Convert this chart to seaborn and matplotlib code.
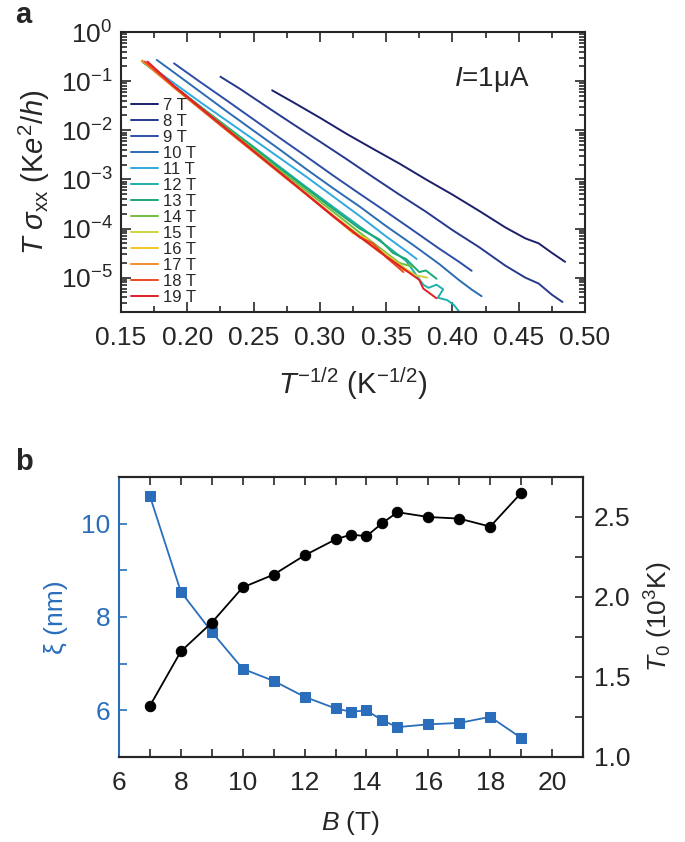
import matplotlib
matplotlib.use("Agg")
import matplotlib.pyplot as plt
from matplotlib.ticker import LogLocator, MultipleLocator, NullFormatter, FormatStrFormatter
import pandas as pd
import seaborn as sns

# ---- panel a: T*sigma_xx vs T^-1/2, one trace per field ----
fields = ["7 T", "8 T", "9 T", "10 T", "11 T", "12 T", "13 T",
          "14 T", "15 T", "16 T", "17 T", "18 T", "19 T"]
colors = ["#1c1f6b", "#27398c", "#2d4ea6", "#2b6cb3", "#30a9e0", "#1eb0ac", "#1ba873",
          "#72be3c", "#cdd53b", "#f3c61f", "#f28c2a", "#ea4a2a", "#e01f27"]

x_7 = [0.264, 0.280, 0.300, 0.320, 0.340, 0.360, 0.380, 0.400, 0.420, 0.440, 0.455, 0.465, 0.475, 0.485]
y_7 = [6.5e-2, 3.7e-2, 1.8e-2, 8.5e-3, 4.2e-3, 2.1e-3, 1.0e-3, 4.9e-4, 2.3e-4, 1.05e-4, 6.3e-5, 5.0e-5, 3.2e-5, 2.1e-5]
x_8 = [0.225, 0.240, 0.260, 0.280, 0.300, 0.320, 0.340, 0.360, 0.380, 0.400, 0.420, 0.440, 0.455, 0.465, 0.475, 0.483]
y_8 = [1.23e-1, 6.9e-2, 3.0e-2, 1.32e-2, 5.9e-3, 2.6e-3, 1.12e-3, 4.9e-4, 2.2e-4, 9.3e-5, 4.2e-5, 1.75e-5, 1.0e-5, 7.6e-6, 4.5e-6, 3.2e-6]
x_9 = [0.190, 0.210, 0.230, 0.250, 0.270, 0.290, 0.310, 0.330, 0.350, 0.370, 0.390, 0.405, 0.4145]
y_9 = [2.3e-1, 9.5e-2, 4.0e-2, 1.66e-2, 6.9e-3, 2.9e-3, 1.2e-3, 5.1e-4, 2.2e-4, 9.3e-5, 3.9e-5, 2.1e-5, 1.38e-5]
x_10 = [0.177, 0.190, 0.210, 0.230, 0.250, 0.270, 0.290, 0.310, 0.330, 0.350, 0.370, 0.390, 0.405, 0.415, 0.422]
y_10 = [2.7e-1, 1.5e-1, 6.0e-2, 2.4e-2, 9.8e-3, 4.0e-3, 1.6e-3, 6.6e-4, 2.8e-4, 1.12e-4, 4.7e-5, 1.9e-5, 8.9e-6, 5.6e-6, 4.2e-6]
x_11 = [0.170, 0.190, 0.210, 0.230, 0.250, 0.270, 0.290, 0.310, 0.330, 0.350, 0.365, 0.373]
y_11 = [2.2e-1, 9.1e-2, 3.7e-2, 1.55e-2, 6.5e-3, 2.7e-3, 1.12e-3, 4.5e-4, 1.8e-4, 6.9e-5, 3.5e-5, 2.4e-5]
x_12 = [0.167, 0.190, 0.210, 0.230, 0.250, 0.270, 0.290, 0.310, 0.330, 0.350, 0.365, 0.378,
        0.382, 0.388, 0.393, 0.389, 0.396, 0.401, 0.406]
y_12 = [2.4e-1, 7.9e-2, 3.0e-2, 1.17e-2, 4.6e-3, 1.78e-3, 6.9e-4, 2.75e-4, 1.1e-4, 4.5e-5, 2.2e-5, 7.2e-6,
        6.2e-6, 7.2e-6, 5.8e-6, 3.9e-6, 3.5e-6, 2.8e-6, 1.9e-6]
x_13 = [0.166, 0.190, 0.210, 0.230, 0.250, 0.270, 0.290, 0.310, 0.330, 0.345, 0.355, 0.365, 0.375, 0.380, 0.388]
y_13 = [2.5e-1, 7.9e-2, 3.0e-2, 1.15e-2, 4.4e-3, 1.66e-3, 6.5e-4, 2.5e-4, 1.0e-4, 6.0e-5, 3.2e-5, 2.4e-5, 1.3e-5, 1.4e-5, 9.5e-6]
x_14 = [0.166, 0.190, 0.210, 0.230, 0.250, 0.270, 0.290, 0.310, 0.330, 0.350, 0.360, 0.370]
y_14 = [2.6e-1, 7.9e-2, 2.95e-2, 1.1e-2, 4.1e-3, 1.5e-3, 5.8e-4, 2.2e-4, 8.3e-5, 3.2e-5, 2.0e-5, 1.66e-5]
x_15 = [0.166, 0.190, 0.210, 0.230, 0.250, 0.270, 0.290, 0.310, 0.330, 0.350, 0.365, 0.372, 0.381]
y_15 = [2.6e-1, 7.6e-2, 2.8e-2, 1.02e-2, 3.8e-3, 1.38e-3, 5.1e-4, 1.86e-4, 7.2e-5, 3.0e-5, 1.5e-5, 1.12e-5, 1.0e-5]
x_16 = [0.166, 0.190, 0.210, 0.230, 0.250, 0.270, 0.290, 0.310, 0.325, 0.335, 0.350, 0.362, 0.370]
y_16 = [2.6e-1, 7.4e-2, 2.7e-2, 9.9e-3, 3.7e-3, 1.35e-3, 5.0e-4, 1.8e-4, 8.0e-5, 6.3e-5, 2.7e-5, 1.5e-5, 1.2e-5]
x_17 = [0.166, 0.190, 0.210, 0.230, 0.250, 0.270, 0.290, 0.310, 0.330, 0.345, 0.355, 0.365]
y_17 = [2.6e-1, 7.4e-2, 2.7e-2, 9.8e-3, 3.6e-3, 1.32e-3, 4.9e-4, 1.8e-4, 6.8e-5, 3.3e-5, 2.2e-5, 1.4e-5]
x_18 = [0.168, 0.190, 0.210, 0.230, 0.250, 0.270, 0.290, 0.310, 0.330, 0.340, 0.350, 0.357, 0.363]
y_18 = [2.5e-1, 7.6e-2, 2.75e-2, 1.0e-2, 3.7e-3, 1.35e-3, 4.9e-4, 1.75e-4, 6.6e-5, 5.0e-5, 2.6e-5, 1.8e-5, 1.3e-5]
x_19 = [0.170, 0.190, 0.210, 0.230, 0.250, 0.270, 0.290, 0.310, 0.330, 0.350, 0.365, 0.375, 0.378, 0.388]
y_19 = [2.5e-1, 8.0e-2, 2.9e-2, 1.05e-2, 3.8e-3, 1.38e-3, 5.0e-4, 1.8e-4, 6.8e-5, 2.7e-5, 1.4e-5, 9.0e-6, 6.0e-6, 3.8e-6]

xs = [x_7, x_8, x_9, x_10, x_11, x_12, x_13, x_14, x_15, x_16, x_17, x_18, x_19]
ys = [y_7, y_8, y_9, y_10, y_11, y_12, y_13, y_14, y_15, y_16, y_17, y_18, y_19]

# ---- panel b: localisation length and T0 vs B ----
B = [7, 8, 9, 10, 11, 12, 13, 13.5, 14, 14.5, 15, 16, 17, 18, 19]
xi = [10.59, 8.54, 7.68, 6.89, 6.63, 6.29, 6.04, 5.97, 6.00, 5.79, 5.64, 5.70, 5.73, 5.86, 5.41]
T0 = [1.32, 1.66, 1.84, 2.06, 2.14, 2.26, 2.36, 2.39, 2.38, 2.46, 2.53, 2.50, 2.49, 2.44, 2.65]

rows = []
for f, xv, yv in zip(fields, xs, ys):
    for a, b in zip(xv, yv):
        rows.append({"field": f, "x": a, "y": b})
df_a = pd.DataFrame(rows)
df_b = pd.DataFrame({"B": B, "xi": xi, "T0": T0})

sns.set_style("ticks")
plt.rcParams["font.family"] = ["Liberation Sans", "DejaVu Sans"]
plt.rcParams["mathtext.fontset"] = "custom"
plt.rcParams["mathtext.rm"] = "Liberation Sans"
plt.rcParams["mathtext.it"] = "Liberation Sans:italic"
plt.rcParams["mathtext.bf"] = "Liberation Sans:bold"
plt.rcParams["axes.linewidth"] = 1.5

blue = "#2a6ebb"
fs = 19

fig = plt.figure(figsize=(6.85, 8.42), dpi=100)
ax_a = fig.add_axes([121 / 685, 1 - 312 / 842, 464 / 685, 280 / 842])
ax_b = fig.add_axes([119 / 685, 1 - 757 / 842, 464 / 685, 280 / 842])

sns.lineplot(data=df_a, x="x", y="y", hue="field", hue_order=fields, palette=colors,
             sort=False, estimator=None, lw=1.4, ax=ax_a)
ax_a.set_yscale("log")
ax_a.set_xlim(0.15, 0.50)
ax_a.set_ylim(2e-6, 1)
ax_a.xaxis.set_major_locator(MultipleLocator(0.05))
ax_a.xaxis.set_minor_locator(MultipleLocator(0.025))
ax_a.xaxis.set_major_formatter(FormatStrFormatter("%.2f"))
ax_a.yaxis.set_major_locator(LogLocator(base=10, numticks=10))
ax_a.yaxis.set_minor_locator(LogLocator(base=10, subs=range(2, 10), numticks=10))
ax_a.yaxis.set_minor_formatter(NullFormatter())
ax_a.tick_params(which="both", direction="in", top=True, right=True, labelsize=fs, width=1.2)
ax_a.tick_params(which="major", length=7)
ax_a.tick_params(which="minor", length=4)
ax_a.tick_params(axis="x", which="major", pad=10)
ax_a.tick_params(axis="y", which="major", pad=6)
ax_a.set_xlabel(r"$T^{-1/2}$ (K$^{-1/2}$)", fontsize=21, labelpad=11)
ax_a.set_ylabel(r"$T\ \sigma_{\rm xx}$ (K$e^2$/$h$)", fontsize=21, labelpad=6)
ax_a.text(0.80, 0.83, r"$I$=1μA", transform=ax_a.transAxes, fontsize=20,
          ha="center", va="center")
handles, labels = ax_a.get_legend_handles_labels()
ax_a.legend(handles, labels, loc="upper left", bbox_to_anchor=(0.0, 0.80), frameon=False,
            fontsize=12, handlelength=1.6, handletextpad=0.3, labelspacing=0.06,
            borderaxespad=0.2)

sns.lineplot(data=df_b, x="B", y="xi", marker="s", color=blue, ms=7, mec=blue,
             lw=1.3, ax=ax_b)
ax2 = ax_b.twinx()
sns.lineplot(data=df_b, x="B", y="T0", marker="o", color="black", ms=7.5, mec="black",
             lw=1.3, ax=ax2)
ax_b.set_xlim(6, 21)
ax_b.set_ylim(5, 11)
ax2.set_ylim(1.0, 2.75)
ax_b.xaxis.set_major_locator(MultipleLocator(2))
ax_b.xaxis.set_minor_locator(MultipleLocator(1))
ax_b.yaxis.set_major_locator(MultipleLocator(2))
ax_b.yaxis.set_minor_locator(MultipleLocator(1))
ax2.yaxis.set_major_locator(MultipleLocator(0.5))
ax2.yaxis.set_minor_locator(MultipleLocator(0.25))
ax2.yaxis.set_major_formatter(FormatStrFormatter("%.1f"))
ax_b.tick_params(which="both", direction="in", top=True, labelsize=fs, width=1.2, length=6)
ax_b.tick_params(axis="x", pad=10)
ax_b.tick_params(axis="y", which="both", colors=blue, pad=6)
ax2.tick_params(which="both", direction="in", labelsize=fs, width=1.2, length=6, pad=8)
ax_b.spines["left"].set_color(blue)
ax2.spines["left"].set_visible(False)
ax_b.set_xlabel(r"$B$ (T)", fontsize=fs, labelpad=10)
ax_b.set_ylabel("ξ (nm)", fontsize=fs, color=blue, labelpad=10)
ax2.set_ylabel(r"$T_0$ (10$^3$K)", fontsize=fs, labelpad=9)

fig.text(15 / 685, 1 - 15 / 842, "a", fontsize=21, fontweight="bold", ha="left", va="center")
fig.text(15 / 685, 1 - 462 / 842, "b", fontsize=21, fontweight="bold", ha="left", va="center")

fig.savefig("out.png", dpi=100)
